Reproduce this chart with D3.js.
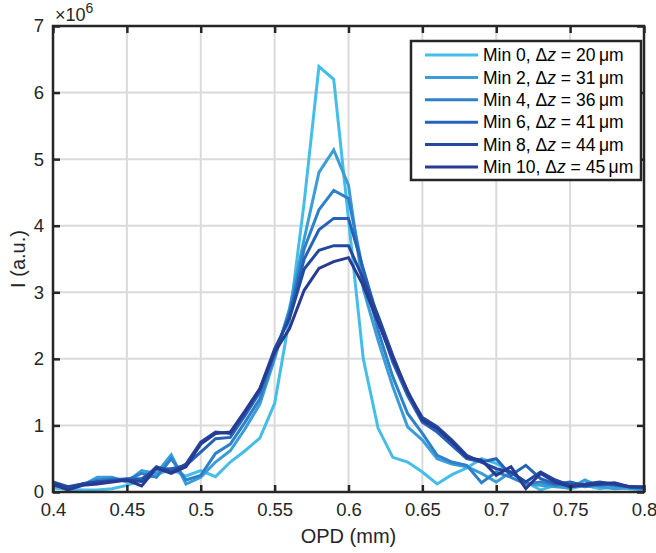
<!DOCTYPE html>
<html>
<head>
<meta charset="utf-8">
<script src="https://cdn.jsdelivr.net/npm/d3@7"></script>
<style>
  body { margin: 0; background: #fff; }
  svg { display: block; font-family: "Liberation Sans", Arial, sans-serif; }
</style>
</head>
<body>
<svg id="chart" width="656" height="553"></svg>
<script>
const opd = [0.40, 0.41, 0.42, 0.43, 0.44, 0.45, 0.46, 0.47, 0.48, 0.49,
             0.50, 0.51, 0.52, 0.53, 0.54, 0.55, 0.56, 0.57, 0.58, 0.59,
             0.60, 0.61, 0.62, 0.63, 0.64, 0.65, 0.66, 0.67, 0.68, 0.69,
             0.70, 0.71, 0.72, 0.73, 0.74, 0.75, 0.76, 0.77, 0.78, 0.79, 0.80]

// intensities in units of 1e6
const min0 = [0.06, 0.04, 0.03, 0.03, 0.05, 0.10, 0.18, 0.26, 0.34, 0.24,
              0.32, 0.23, 0.45, 0.62, 0.81, 1.33, 2.60, 4.35, 6.39, 6.20,
              4.10, 2.00, 0.96, 0.52, 0.45, 0.30, 0.12, 0.26, 0.36, 0.50,
              0.43, 0.30, 0.15, 0.03, 0.10, 0.05, 0.10, 0.05, 0.08, 0.05, 0.03]
const min2 = [0.10, 0.06, 0.10, 0.22, 0.22, 0.15, 0.32, 0.28, 0.56, 0.12,
              0.22, 0.45, 0.62, 0.95, 1.32, 2.00, 2.75, 3.80, 4.80, 5.14,
              4.61, 3.05, 2.28, 1.58, 0.98, 0.78, 0.50, 0.42, 0.38, 0.28,
              0.15, 0.30, 0.12, 0.10, 0.08, 0.06, 0.18, 0.08, 0.05, 0.06, 0.04]
const min4 = [0.12, 0.05, 0.12, 0.18, 0.20, 0.18, 0.28, 0.22, 0.50, 0.18,
              0.25, 0.58, 0.72, 1.05, 1.40, 2.05, 2.70, 3.65, 4.24, 4.53,
              4.41, 3.30, 2.43, 1.73, 1.18, 0.88, 0.55, 0.45, 0.40, 0.14,
              0.30, 0.22, 0.12, 0.15, 0.10, 0.12, 0.08, 0.10, 0.12, 0.08, 0.05]
const min6 = [0.10, 0.06, 0.12, 0.15, 0.18, 0.20, 0.20, 0.35, 0.35, 0.40,
              0.60, 0.80, 0.82, 1.15, 1.50, 2.10, 2.65, 3.50, 3.94, 4.11,
              4.11, 3.35, 2.60, 1.95, 1.45, 1.05, 0.90, 0.70, 0.50, 0.45,
              0.50, 0.25, 0.40, 0.20, 0.12, 0.15, 0.10, 0.12, 0.10, 0.08, 0.06]
const min8 = [0.15, 0.08, 0.12, 0.15, 0.16, 0.18, 0.16, 0.38, 0.30, 0.42,
              0.75, 0.90, 0.88, 1.20, 1.55, 2.15, 2.60, 3.35, 3.63, 3.70,
              3.70, 3.20, 2.65, 2.05, 1.50, 1.12, 0.98, 0.78, 0.55, 0.45,
              0.35, 0.30, 0.15, 0.30, 0.18, 0.10, 0.12, 0.15, 0.12, 0.08, 0.07]
const min10 = [0.12, 0.03, 0.10, 0.12, 0.15, 0.18, 0.09, 0.36, 0.28, 0.38,
               0.72, 0.88, 0.90, 1.22, 1.55, 2.10, 2.45, 3.03, 3.36, 3.46,
               3.52, 3.10, 2.55, 2.00, 1.52, 1.08, 0.95, 0.75, 0.52, 0.48,
               0.25, 0.38, 0.05, 0.28, 0.15, 0.08, 0.10, 0.12, 0.14, 0.08, 0.08]

const minutes = [0, 2, 4, 6, 8, 10]
const dz = [20, 31, 36, 41, 44, 45]
const colors = ['#45bde9', '#3a9dd8', '#2f80ca', '#2563b8', '#23499f', '#283a92']
const xTicks = [0.4, 0.45, 0.5, 0.55, 0.6, 0.65, 0.7, 0.75, 0.8]
const yTicks = [0, 1, 2, 3, 4, 5, 6, 7]

const series = [min0, min2, min4, min6, min8, min10]

const svg = d3.select('#chart')
const mLeft = 53, mRight = 644, mTop = 26, mBottom = 492
const axisColor = '#262626'
const fontSize = 18.5

const x = d3.scaleLinear().domain([0.4, 0.8]).range([mLeft, mRight])
const y = d3.scaleLinear().domain([0, 7]).range([mBottom, mTop])

// grid
const grid = svg.append('g').attr('stroke', '#dadada').attr('stroke-width', 2)
grid.selectAll('.gx').data(xTicks).join('line').attr('class', 'gx')
    .attr('x1', d => x(d)).attr('x2', d => x(d))
    .attr('y1', mTop).attr('y2', mBottom)
grid.selectAll('.gy').data(yTicks).join('line').attr('class', 'gy')
    .attr('y1', d => y(d)).attr('y2', d => y(d))
    .attr('x1', mLeft).attr('x2', mRight)

// data lines
const line = d3.line()
    .x((d, i) => x(opd[i]))
    .y(d => y(d))

svg.append('g')
    .selectAll('path')
    .data(series)
    .join('path')
    .attr('d', d => line(d))
    .attr('fill', 'none')
    .attr('stroke', (d, i) => colors[i])
    .attr('stroke-width', 3)
    .attr('stroke-linejoin', 'miter')

// axes (ticks inward, box)
const tickLen = 7
const xAxis = d3.axisBottom(x).tickValues(xTicks).tickSize(-tickLen).tickPadding(11)
    .tickFormat(d3.format('~g'))
const yAxis = d3.axisLeft(y).tickValues(yTicks).tickSize(-tickLen).tickPadding(9)
    .tickFormat(d3.format('d'))
const xAxisTop = d3.axisTop(x).tickValues(xTicks).tickSize(-tickLen).tickFormat('')
const yAxisRight = d3.axisRight(y).tickValues(yTicks).tickSize(-tickLen).tickFormat('')

function styleAxis(g) {
    g.select('.domain').remove()
    g.selectAll('.tick line').attr('stroke', axisColor).attr('stroke-width', 2.5)
    g.selectAll('.tick text').attr('fill', axisColor)
        .style('font-size', fontSize + 'px')
        .style('font-family', '"Liberation Sans", Arial, sans-serif')
}

svg.append('g').attr('transform', `translate(0,${mBottom})`).call(xAxis).call(styleAxis)
svg.append('g').attr('transform', `translate(${mLeft},0)`).call(yAxis).call(styleAxis)
svg.append('g').attr('transform', `translate(0,${mTop})`).call(xAxisTop).call(styleAxis)
svg.append('g').attr('transform', `translate(${mRight},0)`).call(yAxisRight).call(styleAxis)

svg.append('rect')
    .attr('x', mLeft).attr('y', mTop)
    .attr('width', mRight - mLeft).attr('height', mBottom - mTop)
    .attr('fill', 'none')
    .attr('stroke', axisColor)
    .attr('stroke-width', 2.5)

// exponent label
const expo = svg.append('text')
    .attr('x', 55).attr('y', 21)
    .attr('fill', axisColor)
    .style('font-size', '18px')
expo.append('tspan').text('\u00d710')
expo.append('tspan').attr('dy', -8).style('font-size', '14px').text('6')

// axis labels
svg.append('text')
    .attr('x', (mLeft + mRight) / 2).attr('y', 543)
    .attr('text-anchor', 'middle')
    .attr('fill', axisColor)
    .style('font-size', '20px')
    .text('OPD (mm)')

svg.append('text')
    .attr('transform', `translate(25,${(mTop + mBottom) / 2}) rotate(-90)`)
    .attr('text-anchor', 'middle')
    .attr('fill', axisColor)
    .style('font-size', '20px')
    .text('I (a.u.)')

// legend
const legend = svg.append('g')
legend.append('rect')
    .attr('x', 411).attr('y', 41)
    .attr('width', 230).attr('height', 139)
    .attr('fill', '#fff')
    .attr('stroke', axisColor)
    .attr('stroke-width', 2.5)

const rowY = d3.scaleLinear().domain([0, 5]).range([55, 167])
const entry = legend.selectAll('.entry')
    .data(minutes)
    .join('g')
    .attr('class', 'entry')
    .attr('transform', (d, i) => `translate(0,${rowY(i)})`)

entry.append('line')
    .attr('x1', 425).attr('x2', 478)
    .attr('stroke', (d, i) => colors[i])
    .attr('stroke-width', 3)

const label = entry.append('text')
    .attr('x', 483).attr('dy', '0.35em')
    .attr('fill', '#000')
    .style('font-size', '17.5px')
label.append('tspan').text(d => `Min ${d}, \u0394`)
label.append('tspan').style('font-style', 'italic').text('z')
label.append('tspan').text((d, i) => ` = ${dz[i]}\u2009\u03bcm`)
</script>
</body>
</html>
